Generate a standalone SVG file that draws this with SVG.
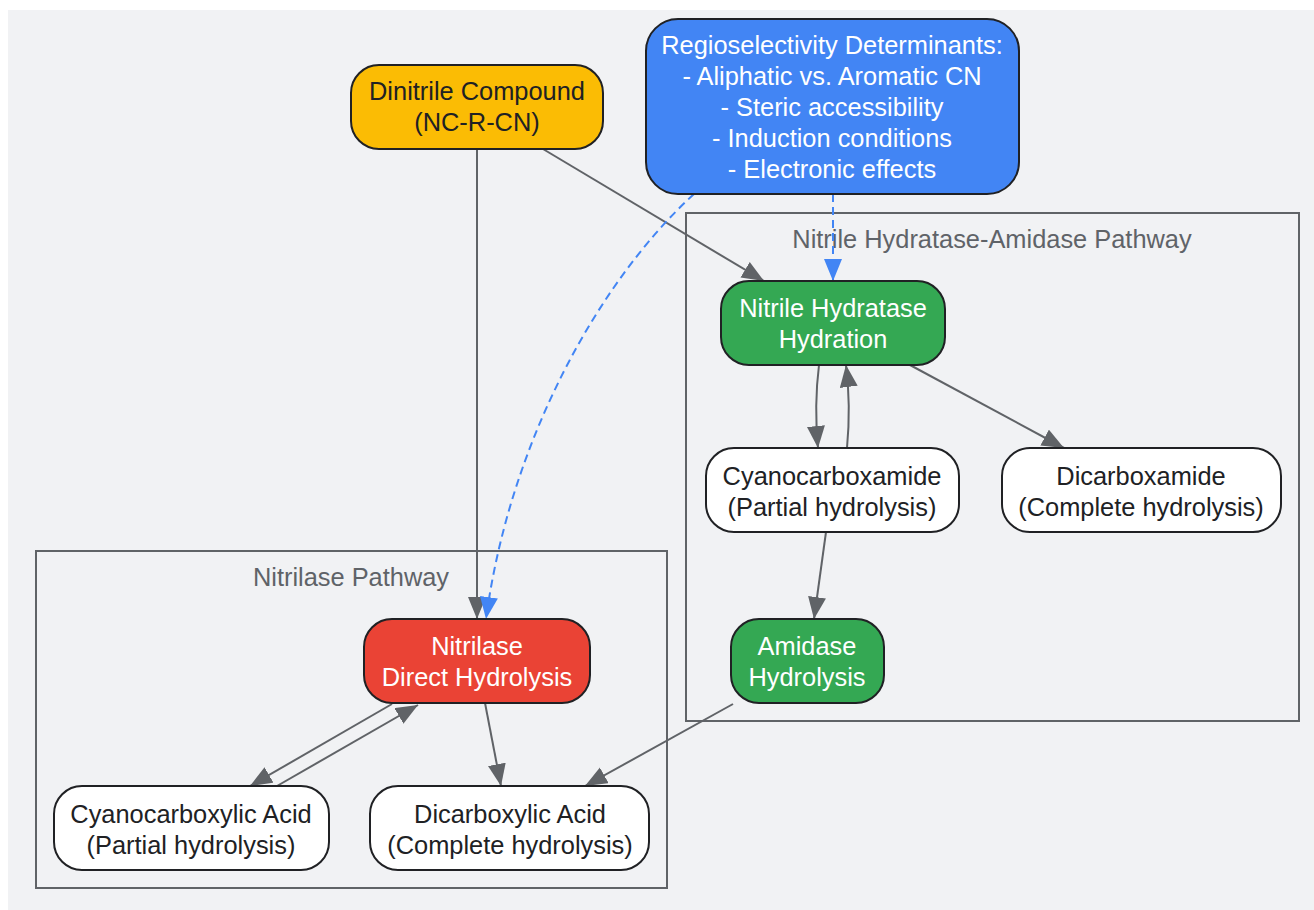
<svg xmlns="http://www.w3.org/2000/svg" width="1314" height="910" viewBox="0 0 1314 910">
<style>
text{font-family:"Liberation Sans",Arial,sans-serif;font-size:25.4px;text-anchor:middle}
.dark{fill:#202124}
.light{fill:#ffffff}
.clab{fill:#5f6368}
.node{stroke:#202124;stroke-width:2}
.cluster{fill:none;stroke:#606367;stroke-width:2}
.edge{fill:none;stroke:#606367;stroke-width:2}
.dash{fill:none;stroke:#4285f4;stroke-width:2;stroke-dasharray:8 5}
</style>
<defs>
<marker id="ag" markerUnits="userSpaceOnUse" markerWidth="24" markerHeight="20" refX="22" refY="9" orient="auto">
<path d="M0,0 L22,9 L0,18 z" fill="#606367"/>
</marker>
<marker id="ab" markerUnits="userSpaceOnUse" markerWidth="24" markerHeight="20" refX="22" refY="9" orient="auto">
<path d="M0,0 L22,9 L0,18 z" fill="#4285f4"/>
</marker>
</defs>
<rect x="8" y="10" width="1306" height="900" fill="#f1f2f4"/>
<g id="clusters">
<g id="cluster-hydratase">
<rect class="cluster" x="686" y="213" width="613" height="508"/>
<text class="clab" x="992" y="248">Nitrile Hydratase-Amidase Pathway</text>
</g>
<g id="cluster-nitrilase">
<rect class="cluster" x="36" y="551" width="631" height="337"/>
<text class="clab" x="351" y="586">Nitrilase Pathway</text>
</g>
</g>
<g id="connectors">
<path class="edge" d="M477,149 L477,619" marker-end="url(#ag)"/>
<path class="edge" d="M543,149 L764,281" marker-end="url(#ag)"/>
<path class="dash" d="M833,194 L833,281" marker-end="url(#ab)"/>
<path class="dash" d="M694,194 C600,280 510,440 486,619" marker-end="url(#ab)"/>
<path class="edge" d="M819,365 Q814,405 818,448" marker-end="url(#ag)"/>
<path class="edge" d="M847,448 Q851,405 846,365" marker-end="url(#ag)"/>
<path class="edge" d="M910,365 L1064,448" marker-end="url(#ag)"/>
<path class="edge" d="M826,532 L814,619" marker-end="url(#ag)"/>
<path class="edge" d="M733,704 L585,786" marker-end="url(#ag)"/>
<path class="edge" d="M392,704 L250,786" marker-end="url(#ag)"/>
<path class="edge" d="M277,786 L418,705" marker-end="url(#ag)"/>
<path class="edge" d="M485,703 L501,786" marker-end="url(#ag)"/>
</g>
<g id="node-dinitrile">
<rect class="node" x="351" y="65" width="252" height="84" rx="28" fill="#fbbc04"/>
<text class="dark" x="477" y="100">Dinitrile Compound</text>
<text class="dark" x="477" y="131">(NC-R-CN)</text>
</g>
<g id="node-regio">
<rect class="node" x="646" y="19" width="373" height="175" rx="32" fill="#4285f4"/>
<text class="light" x="832" y="54">Regioselectivity Determinants:</text>
<text class="light" x="832" y="85">- Aliphatic vs. Aromatic CN</text>
<text class="light" x="832" y="116">- Steric accessibility</text>
<text class="light" x="832" y="147">- Induction conditions</text>
<text class="light" x="832" y="178">- Electronic effects</text>
</g>
<g id="node-hydratase">
<rect class="node" x="721" y="281" width="224" height="84" rx="28" fill="#34a853"/>
<text class="light" x="833" y="317">Nitrile Hydratase</text>
<text class="light" x="833" y="348">Hydration</text>
</g>
<g id="node-cyanocarboxamide">
<rect class="node" x="706" y="448" width="253" height="84" rx="28" fill="#ffffff"/>
<text class="dark" x="832" y="485">Cyanocarboxamide</text>
<text class="dark" x="832" y="516">(Partial hydrolysis)</text>
</g>
<g id="node-dicarboxamide">
<rect class="node" x="1002" y="448" width="279" height="84" rx="28" fill="#ffffff"/>
<text class="dark" x="1141" y="485">Dicarboxamide</text>
<text class="dark" x="1141" y="516">(Complete hydrolysis)</text>
</g>
<g id="node-amidase">
<rect class="node" x="731" y="619" width="153" height="84" rx="28" fill="#34a853"/>
<text class="light" x="807" y="655">Amidase</text>
<text class="light" x="807" y="686">Hydrolysis</text>
</g>
<g id="node-nitrilase">
<rect class="node" x="364" y="619" width="226" height="84" rx="28" fill="#ea4335"/>
<text class="light" x="477" y="655">Nitrilase</text>
<text class="light" x="477" y="686">Direct Hydrolysis</text>
</g>
<g id="node-cyanocarboxylic">
<rect class="node" x="54" y="786" width="275" height="84" rx="28" fill="#ffffff"/>
<text class="dark" x="191" y="823">Cyanocarboxylic Acid</text>
<text class="dark" x="191" y="854">(Partial hydrolysis)</text>
</g>
<g id="node-dicarboxylic">
<rect class="node" x="370" y="786" width="279" height="84" rx="28" fill="#ffffff"/>
<text class="dark" x="510" y="823">Dicarboxylic Acid</text>
<text class="dark" x="510" y="854">(Complete hydrolysis)</text>
</g>
</svg>
